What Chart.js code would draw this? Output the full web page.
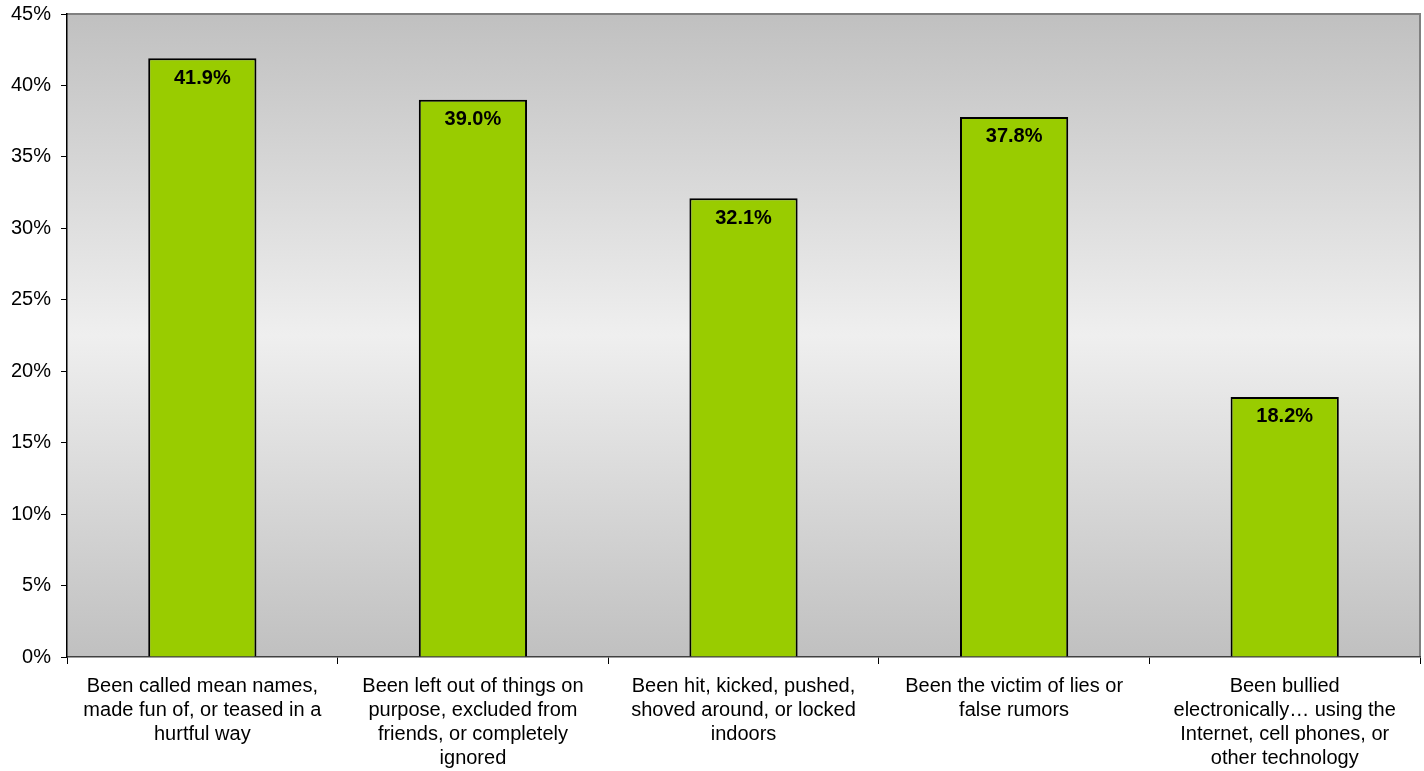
<!DOCTYPE html>
<html>
<head>
<meta charset="utf-8">
<script src="https://cdn.jsdelivr.net/npm/chart.js@4.4.0/dist/chart.umd.min.js"></script>
<style>
  html, body { margin: 0; padding: 0; background: #fff; }
  #wrap { width: 1424px; height: 771px; }
</style>
</head>
<body>
<div id="wrap"><canvas id="graph" width="1424" height="771"></canvas></div>
<script>
// categorias y valores (%)
const categories = [
    ["Been called mean names,", "made fun of, or teased in a", "hurtful way"],
    ["Been left out of things on", "purpose, excluded from", "friends, or completely", "ignored"],
    ["Been hit, kicked, pushed,", "shoved around, or locked", "indoors"],
    ["Been the victim of lies or", "false rumors"],
    ["Been bullied", "electronically\u2026 using the", "Internet, cell phones, or", "other technology"]
];
const values = [41.9, 39.0, 32.1, 37.8, 18.2];
const yTicks = [0, 5, 10, 15, 20, 25, 30, 35, 40, 45];

// fondo degradado + bordes del area
const fondo = {
    id: 'fondo',
    beforeDraw(chart) {
        const { ctx, chartArea: a } = chart;
        const g = ctx.createLinearGradient(0, a.top, 0, a.bottom);
        g.addColorStop(0, '#c0c0c0');
        g.addColorStop(0.5, '#efefef');
        g.addColorStop(1, '#c0c0c0');
        ctx.save();
        ctx.fillStyle = g;
        ctx.fillRect(a.left, a.top, a.right - a.left, a.bottom - a.top);
        ctx.strokeStyle = '#808080';
        ctx.lineWidth = 2;
        ctx.beginPath();
        ctx.moveTo(a.left, a.top);
        ctx.lineTo(a.right, a.top);
        ctx.lineTo(a.right, a.bottom);
        ctx.stroke();
        ctx.restore();
    }
};

// etiquetas dentro de las barras
const etiquetas = {
    id: 'etiquetas',
    afterDatasetsDraw(chart) {
        const { ctx } = chart;
        const meta = chart.getDatasetMeta(0);
        ctx.save();
        ctx.font = 'bold 20px "Liberation Sans", Arial, sans-serif';
        ctx.fillStyle = '#000';
        ctx.textAlign = 'center';
        ctx.textBaseline = 'middle';
        meta.data.forEach((bar, i) => {
            ctx.fillText(values[i].toFixed(1) + '%', bar.x, bar.y + 20);
        });
        ctx.restore();
    }
};

const ctx = document.getElementById('graph').getContext('2d');
new Chart(ctx, {
    type: 'bar',
    data: {
        labels: categories,
        datasets: [{
            data: values,
            backgroundColor: '#99cc00',
            borderColor: '#000000',
            borderWidth: 2,
            borderSkipped: 'bottom',
            barPercentage: 0.4,
            categoryPercentage: 1.0
        }]
    },
    options: {
        responsive: false,
        animation: false,
        layout: { padding: { top: 14, right: 4, left: 1, bottom: 0 } },
        plugins: {
            legend: { display: false },
            tooltip: { enabled: false }
        },
        scales: {
            x: {
                afterFit(axis) { axis.height = 114; },
                grid: { display: true, drawOnChartArea: false, offset: true, tickLength: 7, color: '#000' },
                border: { display: true, color: '#404040', width: 1.5 },
                ticks: {
                    color: '#000',
                    font: { family: '"Liberation Sans", Arial, sans-serif', size: 20, lineHeight: 1.2 },
                    maxRotation: 0,
                    autoSkip: false,
                    padding: 10
                }
            },
            y: {
                min: 0,
                max: 45,
                afterBuildTicks(axis) { axis.ticks = yTicks.map(v => ({ value: v })); },
                afterFit(axis) { axis.paddingTop = 0; axis.paddingBottom = 0; },
                grid: { display: true, drawOnChartArea: false, tickLength: 6, color: '#000' },
                border: { display: true, color: '#000', width: 1.5 },
                ticks: {
                    color: '#000',
                    font: { family: '"Liberation Sans", Arial, sans-serif', size: 20 },
                    padding: 10,
                    callback: v => v + '%'
                }
            }
        }
    },
    plugins: [fondo, etiquetas]
});
</script>
</body>
</html>
